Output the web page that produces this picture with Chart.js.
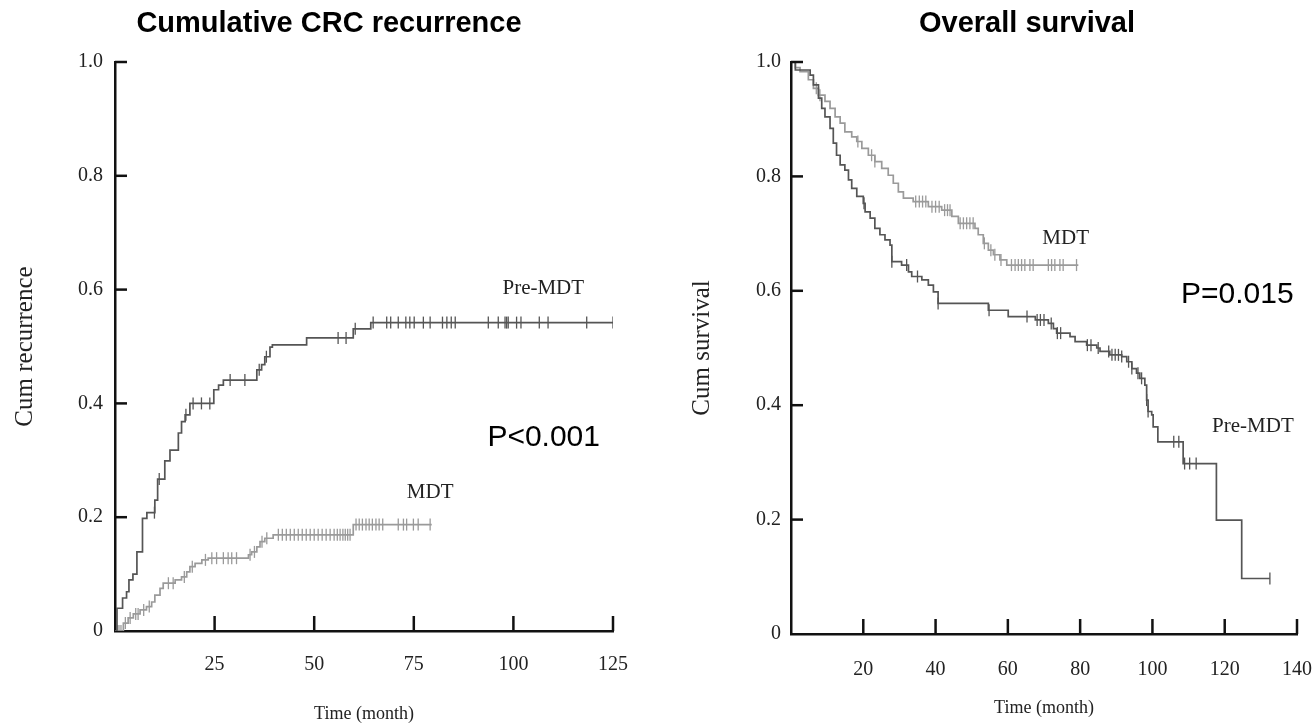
<!DOCTYPE html>
<html>
<head>
<meta charset="utf-8">
<title>CRC recurrence and survival</title>
<script src="https://cdn.jsdelivr.net/npm/chart.js@4.4.0/dist/chart.umd.min.js"></script>
<style>
  body { margin: 0; background: #fff; width: 1315px; height: 726px; overflow: hidden; position: relative; }
  .ttl { position: absolute; top: 6px; z-index: 2; font: bold 29px "Liberation Sans", Arial, sans-serif; color: #000; transform: translateX(-50%); white-space: nowrap; }
  canvas { position: absolute; top: 0; }
</style>
</head>
<body>
<div class="ttl" style="left:329px">Cumulative CRC recurrence</div>
<div class="ttl" style="left:1027px">Overall survival</div>
<canvas id="recChart" width="650" height="726" style="left:0"></canvas>
<canvas id="survChart" width="686" height="726" style="left:650px"></canvas>
<script>
// ---- left panel: cumulative recurrence (months / proportion)
const recPreTime = [0, 0.5, 1.9, 2.9, 3.5, 4.5, 5.5, 6.9, 8, 10, 10.7, 12.5, 13.8, 15.9, 16.7, 17.6, 18.8, 24.8, 26, 27.2, 35.6, 36.8, 37.6, 38.9, 39.5, 48.1, 59.8, 64.2, 125];
const recPreVal  = [0, 0.04, 0.058, 0.069, 0.09, 0.10, 0.139, 0.198, 0.208, 0.23, 0.267, 0.299, 0.318, 0.348, 0.368, 0.38, 0.40, 0.424, 0.432, 0.441, 0.459, 0.468, 0.482, 0.499, 0.503, 0.515, 0.531, 0.542, 0.542];
const recPreCens = [9.9, 11.1, 17.8, 19.6, 21.7, 23.8, 28.9, 32.6, 36.2, 38.0, 56, 58, 60.3, 64.8, 68.2, 69.2, 71.1, 73.0, 74.0, 75.1, 77.4, 79.1, 82.2, 83.3, 84.4, 85.4, 93.7, 96.2, 97.9, 98.3, 98.7, 100.8, 101.9, 106.5, 108.7, 118.4, 125];

const recMdtTime = [0, 2.1, 3.3, 4.6, 6.3, 7.9, 9.2, 10, 11.3, 12.1, 15.1, 16.7, 18, 18.8, 20.1, 21.8, 23.4, 33.5, 34.3, 35.6, 36.4, 37.6, 39.7, 59.8, 79.5];
const recMdtVal  = [0, 0.014, 0.023, 0.03, 0.037, 0.043, 0.051, 0.063, 0.075, 0.084, 0.09, 0.095, 0.104, 0.113, 0.119, 0.125, 0.128, 0.134, 0.139, 0.148, 0.157, 0.163, 0.169, 0.187, 0.187];
const recMdtCens = [0.5, 1.0, 1.5, 2.6, 3.8, 5.2, 5.8, 7.2, 8.6, 13.4, 14.6, 17.4, 19.4, 22.7, 24.3, 25.5, 27.2, 28.4, 29.3, 30.5, 33.9, 35, 36.9, 38.1,
  41, 42, 43, 44, 45, 46, 47, 48, 49, 50, 51, 52, 53, 54, 55, 55.8, 56.5, 57.2, 57.8, 58.4, 59,
  60.5, 61.3, 62.1, 63, 63.8, 64.6, 65.5, 66.3, 67.2, 71.1, 72.4, 73.2, 74.9, 76.1, 79.1];

// ---- right panel: overall survival
const survMdtTime = [0, 1.2, 2.5, 4.8, 6.2, 7.6, 9.4, 10.8, 12.2, 13.6, 14.9, 16.8, 18.2, 19.6, 21.4, 23.2, 25.1, 26.9, 28.3, 29.7, 31.1, 33.8, 38, 41.7, 44.5, 46.3, 50.9, 51.8, 53.2, 54.6, 56, 57.8, 59.7, 79.5];
const survMdtVal  = [1, 0.99, 0.983, 0.969, 0.954, 0.942, 0.931, 0.919, 0.904, 0.893, 0.878, 0.869, 0.861, 0.849, 0.837, 0.826, 0.814, 0.802, 0.788, 0.773, 0.762, 0.756, 0.747, 0.741, 0.73, 0.718, 0.709, 0.698, 0.683, 0.671, 0.663, 0.654, 0.645, 0.645];
const survMdtCens = [7, 8, 18.5, 22.3, 23.2, 34.5, 35.5, 36.4, 37.3, 39, 40, 41, 42.5, 43.3, 44, 46.8, 47.7, 48.6, 49.5, 50.4, 53.5, 55.3, 56.4, 58.1,
  61, 62, 62.9, 63.8, 64.7, 66.1, 67, 71.2, 72.1, 73, 74.4, 75.3, 79];

const survPreTime = [0, 1.2, 5.3, 6.2, 7.6, 8.5, 9.4, 10.8, 11.7, 12.6, 13.6, 14.9, 15.9, 16.8, 18.2, 20, 20.5, 21.9, 23.2, 24.6, 26, 27.4, 27.9, 30.6, 32.5, 33.4, 36.2, 38, 39.4, 40.7, 54.6, 60.1, 67.6, 71.2, 72.6, 73.5, 77.2, 78.6, 81.8, 84.6, 85.5, 88.2, 91.5, 92.9, 94.3, 95.6, 96.5, 97.9, 98.4, 98.8, 99.8, 100.2, 101.5, 108.5, 117.7, 124.7, 132.5];
const survPreVal  = [1, 0.986, 0.977, 0.96, 0.937, 0.919, 0.904, 0.884, 0.858, 0.837, 0.82, 0.811, 0.794, 0.779, 0.765, 0.753, 0.738, 0.727, 0.709, 0.698, 0.689, 0.68, 0.651, 0.645, 0.633, 0.625, 0.619, 0.61, 0.598, 0.578, 0.566, 0.555, 0.549, 0.543, 0.534, 0.526, 0.52, 0.511, 0.505, 0.5, 0.494, 0.488, 0.485, 0.476, 0.464, 0.456, 0.447, 0.435, 0.409, 0.389, 0.383, 0.362, 0.336, 0.298, 0.199, 0.097, 0.097];
const survPreCens = [20.2, 27.9, 32, 35, 40.7, 54.8, 65.3, 68.1, 69, 70, 72, 73.7, 74.6, 82, 83, 85, 87.9, 88.8, 89.7, 90.6, 91.5, 93.4, 94.3, 96, 97, 98.4, 98.8, 105.9, 107.3, 108.9, 110.3, 112.1, 132.5];

const recXTicks = [25, 50, 75, 100, 125];
const survXTicks = [20, 40, 60, 80, 100, 120, 140];
const yTickVals = [0, 0.2, 0.4, 0.6, 0.8, 1.0];

const recNotes = [
  {text: 'Pre-MDT', x: 107.5, y: 0.602, serif: true},
  {text: 'MDT', x: 79.1, y: 0.244, serif: true},
  {text: 'P<0.001', x: 107.6, y: 0.339, serif: false}
];
const survNotes = [
  {text: 'MDT', x: 76.0, y: 0.692, serif: true},
  {text: 'Pre-MDT', x: 127.8, y: 0.363, serif: true},
  {text: 'P=0.015', x: 123.5, y: 0.593, serif: false}
];

const darkLine = '#555555';
const lightLine = '#9a9a9a';

function stepAt(times, vals, t) {
  let v = vals[0];
  for (let i = 0; i < times.length; i++) {
    if (times[i] <= t) v = vals[i];
  }
  return v;
}
function curve(times, vals) {
  return times.map((t, i) => ({x: t, y: vals[i]}));
}
function marks(times, vals, cens) {
  return cens.map(t => ({x: t, y: stepAt(times, vals, t)}));
}

function lineSet(times, vals, color) {
  return {data: curve(times, vals), stepped: true, borderColor: color, borderWidth: 1.7, pointRadius: 0, fill: false};
}
function censSet(times, vals, cens, color) {
  return {data: marks(times, vals, cens), showLine: false, pointStyle: 'line', rotation: 90,
    pointRadius: 6, borderColor: color, borderWidth: 1.3};
}

// inward tick marks like the original figure
const innerTicks = {
  id: 'innerTicks',
  afterDatasetsDraw(chart) {
    const {ctx, scales: {x, y}} = chart;
    ctx.save();
    ctx.strokeStyle = '#111';
    ctx.lineWidth = 2.5;
    y.ticks.forEach(t => {
      if (t.value === 0) return;
      const py = y.getPixelForValue(t.value);
      ctx.beginPath(); ctx.moveTo(x.left, py); ctx.lineTo(x.left + 12, py); ctx.stroke();
    });
    x.ticks.forEach(t => {
      if (t.value === 0) return;
      const px = x.getPixelForValue(t.value);
      ctx.beginPath(); ctx.moveTo(px, y.bottom); ctx.lineTo(px, y.bottom - 15); ctx.stroke();
    });
    ctx.restore();
  }
};

const notes = {
  id: 'notes',
  afterDraw(chart, args, opts) {
    const {ctx, scales: {x, y}} = chart;
    ctx.save();
    ctx.textAlign = 'center';
    ctx.textBaseline = 'middle';
    (opts.items || []).forEach(n => {
      ctx.fillStyle = n.serif ? '#222' : '#000';
      ctx.font = n.serif ? '21px "Liberation Serif", serif' : '30px "Liberation Sans", Arial, sans-serif';
      ctx.fillText(n.text, x.getPixelForValue(n.x), y.getPixelForValue(n.y));
    });
    ctx.restore();
  }
};

function makeChart(id, cfg) {
  const serif = 'Liberation Serif';
  return new Chart(document.getElementById(id), {
    type: 'line',
    data: {datasets: cfg.datasets},
    options: {
      responsive: false,
      animation: false,
      layout: {padding: {top: 62, right: cfg.padRight, left: 0, bottom: 0}},
      plugins: {legend: {display: false}, tooltip: {enabled: false}, notes: {items: cfg.notes}},
      scales: {
        x: {
          type: 'linear', min: 0, max: cfg.xMax,
          afterBuildTicks: s => { s.ticks = cfg.xTicks.map(v => ({value: v})); },
          grid: {display: false, drawTicks: false},
          border: {display: true, color: '#111', width: 2.5},
          ticks: {padding: cfg.xPad, color: '#222', maxRotation: 0, font: {family: serif, size: 20}},
          title: {display: true, text: 'Time (month)', color: '#222', font: {family: serif, size: 18}, padding: {top: 0, bottom: cfg.xTitlePad}},
          afterFit: s => { s.height = cfg.xHeight; }
        },
        y: {
          min: 0, max: 1,
          afterBuildTicks: s => { s.ticks = yTickVals.map(v => ({value: v})); },
          grid: {display: false, drawTicks: false},
          border: {display: true, color: '#111', width: 2.5},
          ticks: {padding: cfg.yPad, color: '#222', font: {family: serif, size: 20},
            callback: v => v === 0 ? '0' : v.toFixed(1)},
          title: {display: true, text: cfg.yTitle, color: '#222', font: {family: serif, size: 25}, padding: {top: cfg.yTitlePad, bottom: 0}},
          afterFit: s => { s.width = cfg.yWidth; }
        }
      }
    },
    plugins: [innerTicks, notes]
  });
}

makeChart('recChart', {
  datasets: [
    lineSet(recPreTime, recPreVal, darkLine),
    censSet(recPreTime, recPreVal, recPreCens, darkLine),
    lineSet(recMdtTime, recMdtVal, lightLine),
    censSet(recMdtTime, recMdtVal, recMdtCens, lightLine)
  ],
  notes: recNotes,
  xMax: 125, xTicks: recXTicks,
  yTitle: 'Cum recurrence',
  padRight: 37, yWidth: 115, xHeight: 95,
  xPad: 22, yPad: 12, xTitlePad: 1, yTitlePad: 10
});

// canvas is wider than the page; the extra strip holds the "140" label overflow
makeChart('survChart', {
  datasets: [
    lineSet(survPreTime, survPreVal, darkLine),
    censSet(survPreTime, survPreVal, survPreCens, darkLine),
    lineSet(survMdtTime, survMdtVal, lightLine),
    censSet(survMdtTime, survMdtVal, survMdtCens, lightLine)
  ],
  notes: survNotes,
  xMax: 140, xTicks: survXTicks,
  yTitle: 'Cum survival',
  padRight: 39, yWidth: 141, xHeight: 92,
  xPad: 24, yPad: 10, xTitlePad: 7, yTitlePad: 37
});
</script>
</body>
</html>
